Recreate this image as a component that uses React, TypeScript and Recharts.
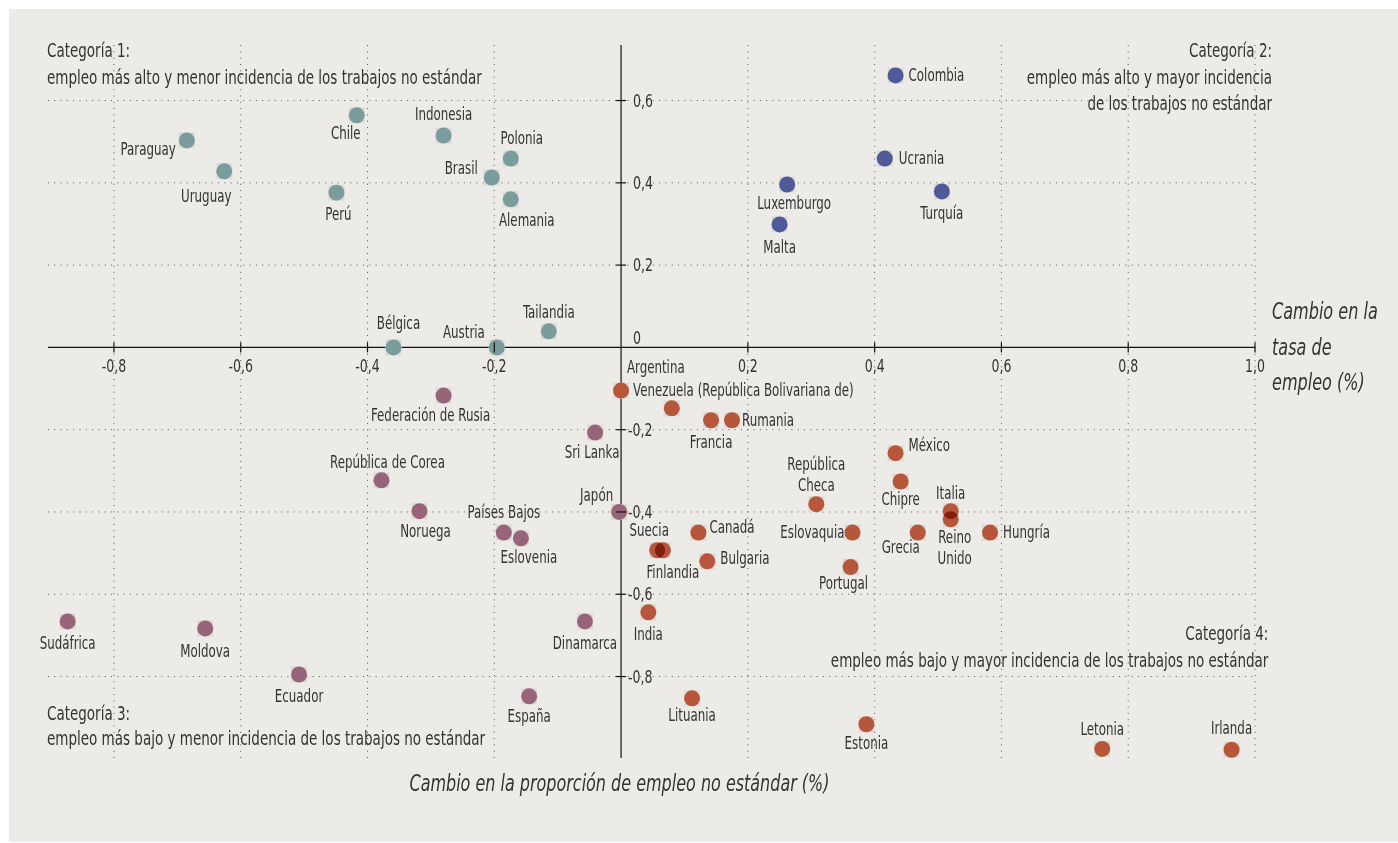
import { ScatterChart, Scatter, XAxis, YAxis, ReferenceLine } from "recharts"

const FONT = '"DejaVu Sans Condensed", "Liberation Sans Narrow", sans-serif'

// ── Data (change in non-standard employment share, change in employment rate) ──
const cat1Names = ["Paraguay", "Uruguay", "Chile", "Perú", "Indonesia", "Brasil", "Polonia", "Alemania", "Tailandia", "Bélgica", "Austria"]
const cat1X = [-0.685, -0.626, -0.417, -0.449, -0.28, -0.204, -0.174, -0.174, -0.114, -0.359, -0.196]
const cat1Y = [0.503, 0.428, 0.564, 0.376, 0.515, 0.413, 0.459, 0.36, 0.039, 0, 0]

const cat2Names = ["Colombia", "Ucrania", "Luxemburgo", "Turquía", "Malta"]
const cat2X = [0.433, 0.416, 0.262, 0.506, 0.25]
const cat2Y = [0.661, 0.459, 0.396, 0.379, 0.299]

const cat3Names = ["Federación de Rusia", "Sri Lanka", "República de Corea", "Noruega", "Japón", "Países Bajos", "Eslovenia", "Sudáfrica", "Moldova", "Dinamarca", "Ecuador", "España"]
const cat3X = [-0.28, -0.041, -0.378, -0.318, -0.003, -0.185, -0.158, -0.873, -0.656, -0.057, -0.508, -0.145]
const cat3Y = [-0.117, -0.207, -0.323, -0.398, -0.4, -0.45, -0.464, -0.666, -0.683, -0.666, -0.795, -0.848]

const cat4Names = ["Venezuela (República Bolivariana de)", "Argentina", "Francia", "Rumania", "México", "Chipre", "República Checa", "Eslovaquia", "Grecia", "Italia", "Reino Unido", "Hungría", "Canadá", "Suecia", "Finlandia", "Bulgaria", "Portugal", "India", "Lituania", "Estonia", "Letonia", "Irlanda"]
const cat4X = [0, 0.08, 0.142, 0.175, 0.433, 0.441, 0.308, 0.365, 0.468, 0.52, 0.52, 0.582, 0.122, 0.057, 0.066, 0.136, 0.362, 0.043, 0.112, 0.387, 0.759, 0.963]
const cat4Y = [-0.105, -0.148, -0.177, -0.177, -0.257, -0.326, -0.381, -0.45, -0.45, -0.398, -0.418, -0.45, -0.45, -0.493, -0.493, -0.52, -0.534, -0.644, -0.853, -0.916, -0.976, -0.978]

const xTicks = [-0.8, -0.6, -0.4, -0.2, 0.2, 0.4, 0.6, 0.8, 1.0]
const xTickLabels = ["-0,8", "-0,6", "-0,4", "-0,2", "0,2", "0,4", "0,6", "0,8", "1,0"]
const yTicks = [0.6, 0.4, 0.2, 0, -0.2, -0.4, -0.6, -0.8]
const yTickLabels = ["0,6", "0,4", "0,2", "0", "-0,2", "-0,4", "-0,6", "-0,8"]

// label placement: [dx, dy, anchor]
const labelPos: Record<string, [number, number, string]> = {
  Paraguay: [-11, 9, "end"],
  Uruguay: [-18, 25, "middle"],
  Chile: [-11, 18, "middle"],
  "Perú": [2, 22, "middle"],
  Indonesia: [0, -21, "middle"],
  Brasil: [-14, -9, "end"],
  Polonia: [11, -20, "middle"],
  Alemania: [16, 21, "middle"],
  Tailandia: [0, -19, "middle"],
  "Bélgica": [5, -24, "middle"],
  Austria: [-12, -15, "end"],
  Colombia: [13, 0, "start"],
  Ucrania: [14, 0, "start"],
  Luxemburgo: [7, 19, "middle"],
  "Turquía": [0, 22, "middle"],
  Malta: [0, 23, "middle"],
  "Federación de Rusia": [-13, 20, "middle"],
  "Sri Lanka": [-3, 20, "middle"],
  "República de Corea": [6, -18, "middle"],
  Noruega: [6, 20, "middle"],
  "Japón": [-6, -17, "end"],
  "Países Bajos": [0, -20, "middle"],
  Eslovenia: [8, 19, "middle"],
  "Sudáfrica": [0, 22, "middle"],
  Moldova: [0, 23, "middle"],
  Dinamarca: [0, 22, "middle"],
  Ecuador: [0, 22, "middle"],
  "España": [0, 20, "middle"],
  "Venezuela (República Bolivariana de)": [12, 0, "start"],
  Argentina: [-16, -41, "middle"],
  Francia: [0, 22, "middle"],
  Rumania: [10, 0, "start"],
  "México": [13, -8, "start"],
  Chipre: [0, 18, "middle"],
  "República Checa": [0, -40, "middle"],
  Eslovaquia: [-8, 0, "end"],
  Grecia: [-17, 15, "middle"],
  Italia: [0, -18, "middle"],
  "Reino Unido": [4, 18, "middle"],
  "Hungría": [13, 0, "start"],
  "Canadá": [11, -5, "start"],
  Suecia: [-8, -20, "middle"],
  Finlandia: [10, 22, "middle"],
  Bulgaria: [13, -3, "start"],
  Portugal: [-7, 16, "middle"],
  India: [0, 22, "middle"],
  Lituania: [0, 17, "middle"],
  Estonia: [0, 19, "middle"],
  Letonia: [0, -20, "middle"],
  Irlanda: [0, -21, "middle"],
}
const labelLines: Record<string, string[]> = {
  "República Checa": ["República", "Checa"],
  "Reino Unido": ["Reino", "Unido"],
}

const toRows = (names: string[], xs: number[], ys: number[]) =>
  names.map((name, i) => ({ name, x: xs[i], y: ys[i] }))

const cat1 = toRows(cat1Names, cat1X, cat1Y)
const cat2 = toRows(cat2Names, cat2X, cat2Y)
const cat3 = toRows(cat3Names, cat3X, cat3Y)
const cat4 = toRows(cat4Names, cat4X, cat4Y)
const allPoints = [...cat1, ...cat2, ...cat3, ...cat4]
const xTickRows = xTicks.map((t, i) => ({ x: t, y: 0, label: xTickLabels[i] }))
const yTickRows = yTicks.map((t, i) => ({ x: 0, y: t, label: yTickLabels[i] }))

const TEXT = "#333"

// narrow text: condensed font squeezed a bit more horizontally
function NText({ x, y, anchor = "middle", size, sx, children }: any) {
  return (
    <g transform={`translate(${x},${y}) scale(${sx},1)`}>
      <text x={0} y={0} textAnchor={anchor} dominantBaseline="central" fontFamily={FONT} fontSize={size} fill={TEXT}>
        {children}
      </text>
    </g>
  )
}

// ── shapes ────────────────────────────────────────────────────────────────────
const SquareBg = (p: any) => (
  <rect x={p.cx - 8} y={p.cy - 8} width={16} height={16} fill="#dddbd6" />
)

function makeDot(color: string) {
  return (p: any) => {
    const name: string = p.payload.name
    const [dx, dy, anchor] = labelPos[name] ?? [0, 20, "middle"]
    const lines = labelLines[name] ?? [name]
    return (
      <g>
        <circle cx={p.cx} cy={p.cy} r={8} fill={color} style={{ mixBlendMode: "multiply" }} />
        {lines.map((ln, i) => (
          <NText key={i} x={p.cx + dx} y={p.cy + dy + i * 21} anchor={anchor} size={17} sx={0.776}>
            {ln}
          </NText>
        ))}
      </g>
    )
  }
}

const XTick = (p: any) => (
  <g>
    <line x1={p.cx} x2={p.cx} y1={p.cy - 5} y2={p.cy + 5} stroke="#111" strokeWidth={1.2} />
    <NText x={p.cx} y={p.cy + 18} size={18} sx={0.775}>
      {p.payload.label}
    </NText>
  </g>
)

const YTick = (p: any) => {
  const v = p.payload.y
  const x = v < 0 ? p.cx + 7 : p.cx + 12
  const y = v === 0 ? p.cy - 10 : p.cy
  return (
    <g>
      {v !== 0 && <line x1={p.cx - 5} x2={p.cx + 5} y1={p.cy} y2={p.cy} stroke="#111" strokeWidth={1.2} />}
      <NText x={x} y={y} anchor="start" size={18} sx={0.775}>
        {p.payload.label}
      </NText>
    </g>
  )
}

const noteStyle = (extra: React.CSSProperties): React.CSSProperties => ({
  position: "absolute",
  fontFamily: FONT,
  fontSize: 20,
  lineHeight: "27px",
  color: TEXT,
  whiteSpace: "nowrap",
  transform: "scaleX(0.75)",
  transformOrigin: "left top",
  ...extra,
})

export default function App() {
  return (
    <div style={{ position: "absolute", left: 9, top: 9, width: 1389, height: 833, background: "#ecebe7" }}>
      <style>{".iso { isolation: isolate; }"}</style>
      <ScatterChart width={1389} height={833} margin={{ top: 36, right: 143, bottom: 84, left: 39 }}>
        <XAxis type="number" dataKey="x" domain={[-0.904, 1.0]} hide />
        <YAxis type="number" dataKey="y" domain={[-0.998, 0.735]} hide />
        {xTicks.map((t) => (
          <ReferenceLine key={"gx" + t} x={t} stroke="#555" strokeWidth={1} strokeDasharray="1 5.3" />
        ))}
        {yTicks.filter((t) => t !== 0).map((t) => (
          <ReferenceLine key={"gy" + t} y={t} stroke="#555" strokeWidth={1} strokeDasharray="1 5.3" />
        ))}
        <Scatter data={allPoints} shape={SquareBg} isAnimationActive={false} />
        <Scatter className="iso" data={cat1} shape={makeDot("#7a9c9d")} isAnimationActive={false} />
        <Scatter className="iso" data={cat2} shape={makeDot("#4f5b99")} isAnimationActive={false} />
        <Scatter className="iso" data={cat3} shape={makeDot("#98647a")} isAnimationActive={false} />
        <Scatter className="iso" data={cat4} shape={makeDot("#b6573b")} isAnimationActive={false} />
        <ReferenceLine x={0} stroke="#111" strokeWidth={1.2} />
        <ReferenceLine y={0} stroke="#111" strokeWidth={1.2} />
        <Scatter data={xTickRows} shape={XTick} isAnimationActive={false} />
        <Scatter data={yTickRows} shape={YTick} isAnimationActive={false} />
      </ScatterChart>

      <div style={noteStyle({ left: 38, top: 27.5 })}>
        Categoría 1:
        <br />
        empleo más alto y menor incidencia de los trabajos no estándar
      </div>
      <div style={noteStyle({ right: 126, top: 28, textAlign: "right", lineHeight: "26.5px", transformOrigin: "right top" })}>
        Categoría 2:
        <br />
        empleo más alto y mayor incidencia
        <br />
        de los trabajos no estándar
      </div>
      <div style={noteStyle({ left: 38, top: 692, lineHeight: "25px" })}>
        Categoría 3:
        <br />
        empleo más bajo y menor incidencia de los trabajos no estándar
      </div>
      <div style={noteStyle({ right: 130, top: 610.5, textAlign: "right", transformOrigin: "right top" })}>
        Categoría 4:
        <br />
        empleo más bajo y mayor incidencia de los trabajos no estándar
      </div>
      <div
        style={{
          position: "absolute",
          left: 0,
          width: 1221,
          top: 759,
          textAlign: "center",
          fontFamily: FONT,
          fontStyle: "italic",
          fontSize: 22.5,
          lineHeight: "30px",
          color: TEXT,
          transform: "scaleX(0.79)",
          transformOrigin: "center top",
        }}
      >
        Cambio en la proporción de empleo no estándar (%)
      </div>
      <div
        style={{
          position: "absolute",
          left: 1263,
          top: 285,
          fontFamily: FONT,
          fontStyle: "italic",
          fontSize: 23,
          lineHeight: "35.5px",
          color: TEXT,
          whiteSpace: "nowrap",
          transform: "scaleX(0.776)",
          transformOrigin: "left top",
        }}
      >
        Cambio en la
        <br />
        tasa de
        <br />
        empleo (%)
      </div>
    </div>
  )
}
